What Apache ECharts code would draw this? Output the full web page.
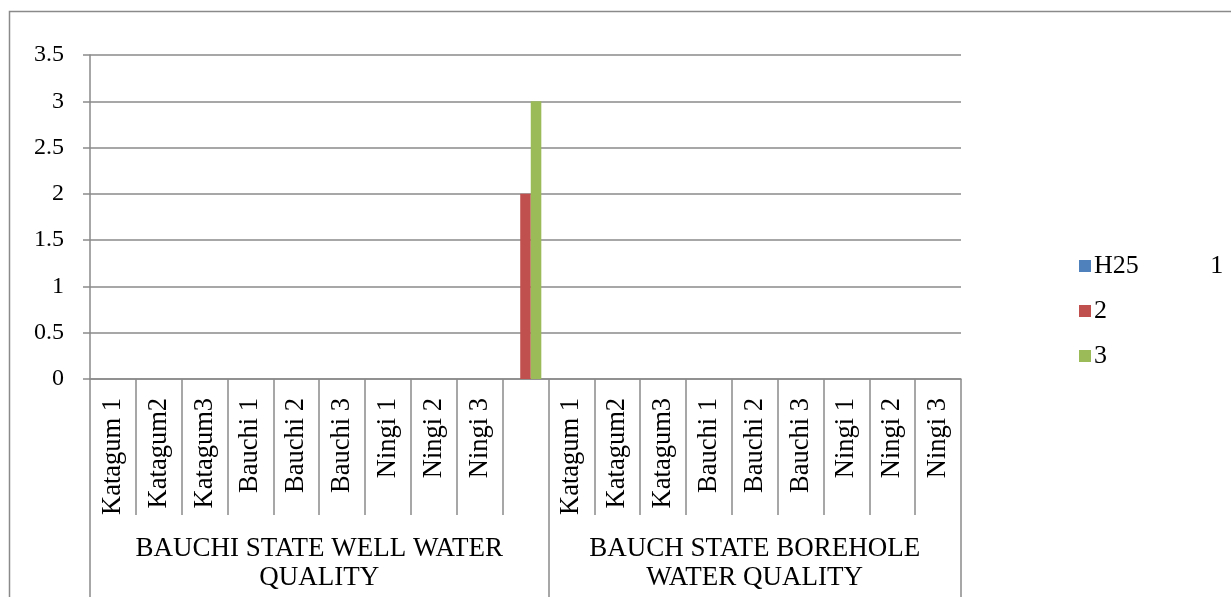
<!DOCTYPE html>
<html>
<head>
<meta charset="utf-8">
<script src="https://cdn.jsdelivr.net/npm/echarts@6/dist/echarts.min.js"></script>
<style>
  html, body { margin: 0; padding: 0; background: #fff; }
  #chart { width: 1231px; height: 597px; }
</style>
</head>
<body>
<div id="chart"></div>
<script>
// Sampling sites: nine well sites, one unlabelled slot, nine borehole sites
const categories = [
  'Katagum 1', 'Katagum2', 'Katagum3', 'Bauchi 1', 'Bauchi 2', 'Bauchi 3', 'Ningi 1', 'Ningi 2', 'Ningi 3',
  '',
  'Katagum 1', 'Katagum2', 'Katagum3', 'Bauchi 1', 'Bauchi 2', 'Bauchi 3', 'Ningi 1', 'Ningi 2', 'Ningi 3'
];

// Group headings under the site labels, with the slot ranges they cover
const groupNames = ['BAUCHI STATE WELL WATER\nQUALITY', 'BAUCH STATE BOREHOLE\nWATER QUALITY'];
const groupBounds = [0, 10, 19];

const seriesNames = ['H25           1', '2', '3'];
const seriesH25 = [null, null, null, null, null, null, null, null, null, 0, null, null, null, null, null, null, null, null, null];
const series2   = [null, null, null, null, null, null, null, null, null, 2, null, null, null, null, null, null, null, null, null];
const series3   = [null, null, null, null, null, null, null, null, null, 3, null, null, null, null, null, null, null, null, null];

const yTicks = [0, 0.5, 1, 1.5, 2, 2.5, 3, 3.5];

const colors = ['#4F81BD', '#C0504D', '#9BBB59'];
const gray = '#8a8a8a';
const font = 'Liberation Serif';

// Label positions for the group headings: middle of each range
const groupCenters = [
  (groupBounds[0] + groupBounds[1]) / 2,
  (groupBounds[1] + groupBounds[2]) / 2
];

const chart = echarts.init(document.getElementById('chart'), null, { renderer: 'canvas' });

chart.setOption({
  animation: false,
  backgroundColor: '#fff',
  color: colors,
  textStyle: { fontFamily: font, color: '#000' },
  graphic: [{
    type: 'rect',
    shape: { x: 9.5, y: 11.5, width: 1400, height: 800 },
    style: { fill: 'none', stroke: gray, lineWidth: 1.5 },
    silent: true,
    z: -1
  }],
  grid: { left: 90, right: 270, top: 55, bottom: 218, containLabel: false },
  legend: {
    orient: 'vertical',
    left: 1074,
    top: 248,
    icon: 'rect',
    itemWidth: 12,
    itemHeight: 12,
    itemGap: 19,
    data: seriesNames,
    textStyle: { fontFamily: font, fontSize: 26, color: '#000', padding: [0, 0, 0, -2] }
  },
  xAxis: [
    {
      type: 'category',
      data: categories,
      position: 'bottom',
      axisLine: { lineStyle: { color: gray, width: 1.5 } },
      axisTick: { show: true, interval: 0, length: 136, lineStyle: { color: gray, width: 1.5 } },
      axisLabel: {
        interval: 0,
        rotate: 90,
        margin: 19,
        fontFamily: font,
        fontSize: 26.5,
        color: '#000'
      },
      splitLine: { show: false }
    },
    {
      type: 'value',
      min: groupBounds[0],
      max: groupBounds[2],
      position: 'bottom',
      axisLine: { show: false },
      axisTick: {
        show: true,
        customValues: groupBounds,
        length: 230,
        lineStyle: { color: gray, width: 1.5 }
      },
      axisLabel: {
        show: true,
        customValues: groupCenters,
        margin: 155,
        fontFamily: font,
        fontSize: 27,
        lineHeight: 29,
        color: '#000',
        align: 'center',
        formatter: function (v) {
          const i = groupCenters.indexOf(v);
          return i >= 0 ? groupNames[i] : '';
        }
      },
      splitLine: { show: false }
    }
  ],
  yAxis: {
    type: 'value',
    min: yTicks[0],
    max: yTicks[yTicks.length - 1],
    interval: 0.5,
    axisLine: { show: true, lineStyle: { color: gray, width: 1.5 } },
    axisTick: { show: true, length: 7, lineStyle: { color: gray, width: 1.5 } },
    axisLabel: {
      margin: 26,
      fontFamily: font,
      fontSize: 24,
      color: '#000',
      formatter: function (v) { return String(v); }
    },
    splitLine: { show: true, lineStyle: { color: gray, width: 1.5 } }
  },
  series: [
    { name: seriesNames[0], type: 'bar', xAxisIndex: 0, data: seriesH25, barGap: '0%', barCategoryGap: '31%' },
    { name: seriesNames[1], type: 'bar', xAxisIndex: 0, data: series2, barGap: '0%', barCategoryGap: '31%' },
    { name: seriesNames[2], type: 'bar', xAxisIndex: 0, data: series3, barGap: '0%', barCategoryGap: '31%' }
  ]
});
</script>
</body>
</html>
